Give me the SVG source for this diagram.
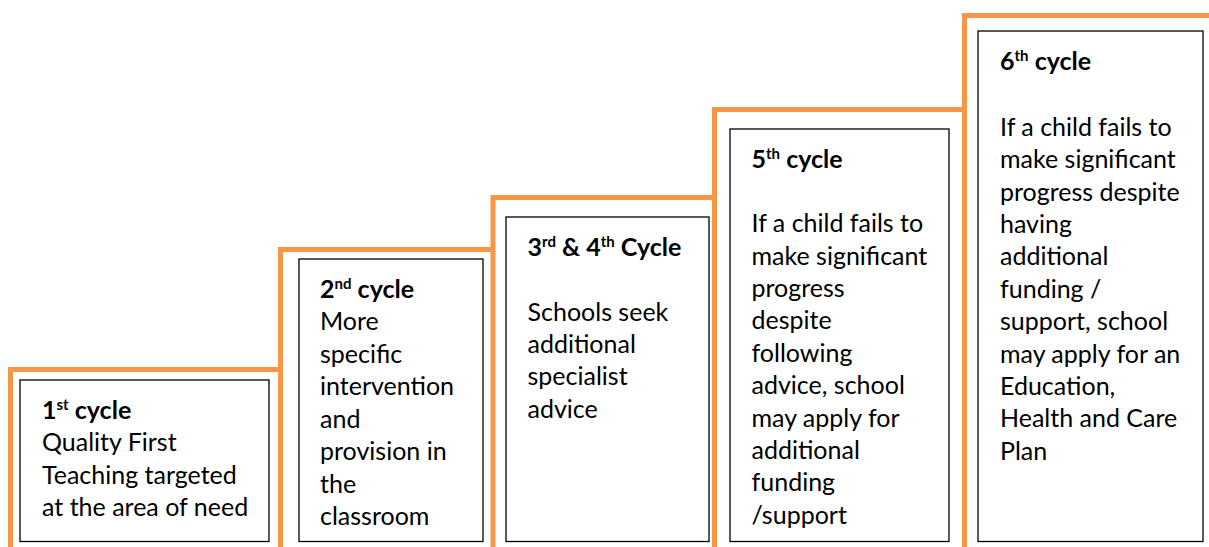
<svg xmlns="http://www.w3.org/2000/svg" width="1209" height="547" viewBox="0 0 1209 547">
<style>
.stair{fill:none;stroke:#F79646;stroke-width:5;stroke-linecap:square;stroke-linejoin:miter}
.box{fill:#fff;stroke:#000;stroke-width:1.3}
text{font-family:Lato,"Liberation Sans",sans-serif;font-size:25px;fill:#000}
.h{font-weight:bold}
.sup{font-size:15px}
</style>
<rect width="1209" height="547" fill="#fff"/>
<g id="connectors">
<path class="stair" d="M10.5,549 V369.5 H280.5 M280.5,549 V249.5 H493 M493,549 V197.5 H714.5 M714.5,549 V109.5 H964.5 M964.5,549 V15.5 H1212"/>
</g>
<g id="cycle1">
<rect class="box" x="20" y="380" width="249" height="161.5"/>
<text x="42" y="419" class="h">1<tspan class="sup" dy="-9">st</tspan><tspan dy="9"> cycle</tspan></text>
<text x="42" y="451">Quality First</text>
<text x="42" y="484">Teaching targeted</text>
<text x="42" y="516">at the area of need</text>
</g>
<g id="cycle2">
<rect class="box" x="299" y="259" width="184" height="282.5"/>
<text x="320" y="298" class="h">2<tspan class="sup" dy="-9">nd</tspan><tspan dy="9"> cycle</tspan></text>
<text x="320" y="330">More</text>
<text x="320" y="362.5">specific</text>
<text x="320" y="395">intervention</text>
<text x="320" y="427.5">and</text>
<text x="320" y="460">provision in</text>
<text x="320" y="492.5">the</text>
<text x="320" y="525">classroom</text>
</g>
<g id="cycle3-4">
<rect class="box" x="506" y="217" width="203" height="324.5"/>
<text x="527.5" y="255.5" class="h">3<tspan class="sup" dy="-9">rd</tspan><tspan dy="9"> &amp; 4</tspan><tspan class="sup" dy="-9">th</tspan><tspan dy="9"> Cycle</tspan></text>
<text x="527.5" y="320.5">Schools seek</text>
<text x="527.5" y="353">additional</text>
<text x="527.5" y="385">specialist</text>
<text x="527.5" y="417.5">advice</text>
</g>
<g id="cycle5">
<rect class="box" x="730" y="129" width="219" height="412.5"/>
<text x="751.5" y="168" class="h">5<tspan class="sup" dy="-9">th</tspan><tspan dy="9"> cycle</tspan></text>
<text x="751.5" y="232">If a child fails to</text>
<text x="751.5" y="264.5">make significant</text>
<text x="751.5" y="297">progress</text>
<text x="751.5" y="329">despite</text>
<text x="751.5" y="361.5">following</text>
<text x="751.5" y="394">advice, school</text>
<text x="751.5" y="426.5">may apply for</text>
<text x="751.5" y="459">additional</text>
<text x="751.5" y="491">funding</text>
<text x="751.5" y="523.5">/support</text>
</g>
<g id="cycle6">
<rect class="box" x="978" y="31" width="225" height="510.5"/>
<text x="1000" y="70" class="h">6<tspan class="sup" dy="-9">th</tspan><tspan dy="9"> cycle</tspan></text>
<text x="1000" y="135.5">If a child fails to</text>
<text x="1000" y="168">make significant</text>
<text x="1000" y="200.5">progress despite</text>
<text x="1000" y="232.5">having</text>
<text x="1000" y="265">additional</text>
<text x="1000" y="297.5">funding /</text>
<text x="1000" y="330">support, school</text>
<text x="1000" y="362.5">may apply for an</text>
<text x="1000" y="394.5">Education,</text>
<text x="1000" y="427">Health and Care</text>
<text x="1000" y="459.5">Plan</text>
</g>
</svg>
